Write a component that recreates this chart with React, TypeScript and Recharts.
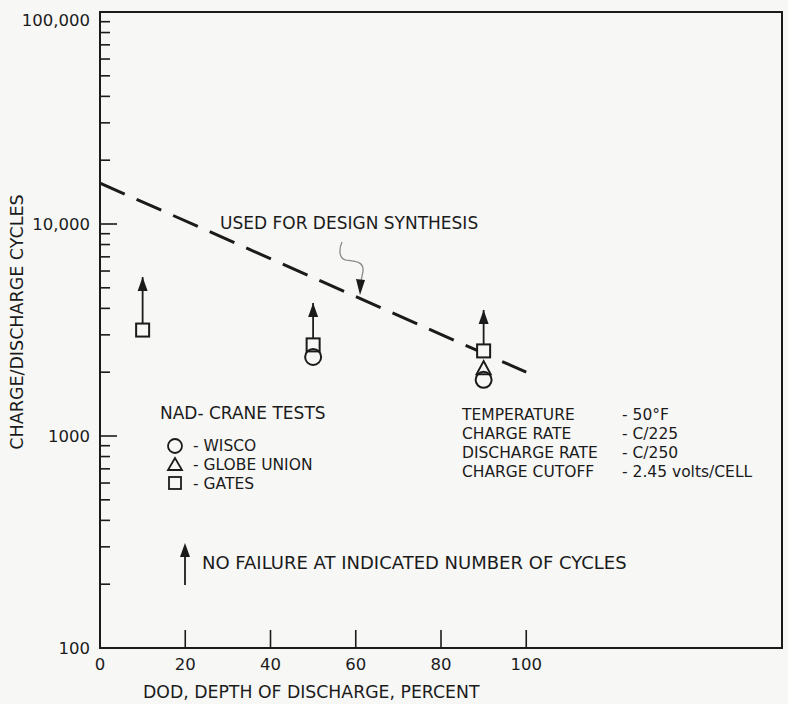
import React from "react";
import { ComposedChart, Line, Scatter, XAxis, YAxis, ReferenceArea, ReferenceDot } from "recharts";

const dodTicks = [0, 20, 40, 60, 80, 100];
const cycleTicks = [
  100, 200, 300, 400, 500, 600, 700, 800, 900,
  1000, 2000, 3000, 4000, 5000, 6000, 7000, 8000, 9000,
  10000, 20000, 30000, 40000, 50000, 60000, 70000, 80000, 90000,
  100000
];
const cycleLabels: Record<number, string> = {
  100: "100",
  1000: "1000",
  10000: "10,000",
  100000: "100,000"
};

// dashed line "used for design synthesis"
const designLine = [
  { dod: 0, cycles: 15600 },
  { dod: 100, cycles: 2000 }
];
const wisco = [
  { dod: 50, cycles: 2360 },
  { dod: 90, cycles: 1840 }
];
const globeUnion = [{ dod: 90, cycles: 2090 }];
const gates = [
  { dod: 10, cycles: 3160 },
  { dod: 50, cycles: 2690 },
  { dod: 90, cycles: 2520 }
];
// arrow tips: no failure at indicated number of cycles
const noFailureTips = [
  { dod: 10, cycles: 5620 },
  { dod: 50, cycles: 4240 },
  { dod: 90, cycles: 3930 }
];
const designPointer = { dod: 61, cycles: 4620 };

const INK = "#1b1b1b";
const BG = "#f7f7f6";
const FONT = "'DejaVu Sans', sans-serif";

const shafts = gates.map((g, i) => [
  { dod: g.dod, cycles: g.cycles },
  { dod: g.dod, cycles: noFailureTips[i].cycles }
]);

function YTick(props: any) {
  const { x, y, payload } = props;
  const v = payload.value;
  const label = cycleLabels[v];
  const ax = x + 10;
  return (
    <g>
      {v !== 100 && v !== 100000 && (
        <line x1={ax} x2={ax + (label ? 17 : 10)} y1={y} y2={y} stroke={INK} strokeWidth={1.6} />
      )}
      {label && (
        <text x={x} y={y + (v === 100000 ? 8 : 0)} dy="0.36em" textAnchor="end" fontSize={16.5} fill={INK} fontFamily={FONT}>
          {label}
        </text>
      )}
    </g>
  );
}

function XTick(props: any) {
  const { x, y, payload } = props;
  const ax = y - 8;
  return (
    <g>
      {payload.value !== 0 && <line x1={x} x2={x} y1={ax} y2={ax - 18} stroke={INK} strokeWidth={1.6} />}
      <text x={x} y={ax + 22} textAnchor="middle" fontSize={16.5} fill={INK} fontFamily={FONT}>
        {payload.value}
      </text>
    </g>
  );
}

const Square = (p: any) => (
  <rect x={p.cx - 6.5} y={p.cy - 6.5} width={13} height={13} fill={BG} stroke={INK} strokeWidth={2} />
);
const Circle = (p: any) => <circle cx={p.cx} cy={p.cy} r={8} fill="none" stroke={INK} strokeWidth={2} />;
const Triangle = (p: any) => (
  <path d={`M${p.cx},${p.cy - 7} L${p.cx - 7},${p.cy + 6} L${p.cx + 7},${p.cy + 6} Z`} fill={BG} stroke={INK} strokeWidth={2} />
);
const ArrowHead = (p: any) => (
  <path d={`M${p.cx},${p.cy} L${p.cx - 5},${p.cy + 14} L${p.cx + 5},${p.cy + 14} Z`} fill={INK} />
);

const Pointer = (p: any) => {
  const { cx, cy } = p;
  return (
    <g>
      <path
        d={`M${cx - 18},${cy - 53} C${cx - 22},${cy - 44} ${cx - 20},${cy - 36} ${cx - 14},${cy - 35} C${cx - 6},${cy - 34} ${cx + 4},${cy - 34} ${cx + 3},${cy - 24} L${cx + 1},${cy - 14}`}
        fill="none"
        stroke="#8a8a8a"
        strokeWidth={1.3}
      />
      <path d={`M${cx},${cy} L${cx - 4},${cy - 16} L${cx + 5},${cy - 15} Z`} fill={INK} />
    </g>
  );
};

function Overlay() {
  const t = { fontFamily: FONT, fontSize: 17, fill: INK } as const;
  const s = { ...t, fontSize: 15.5 } as const;
  return (
    <svg width={788} height={704} style={{ position: "absolute", left: 0, top: 0, pointerEvents: "none" }}>
      <text {...t} fontSize={17.5} x={17} y={322} textAnchor="middle" dominantBaseline="central" transform="rotate(-90 17 322)">
        CHARGE/DISCHARGE CYCLES
      </text>
      <text {...t} fontSize={17.3} x={143} y={698}>DOD, DEPTH OF DISCHARGE, PERCENT</text>

      <text {...t} x={220} y={229}>USED FOR DESIGN SYNTHESIS</text>

      <text {...t} x={160} y={419}>NAD- CRANE TESTS</text>
      <circle cx={175} cy={446} r={7} fill="none" stroke={INK} strokeWidth={1.8} />
      <text {...s} x={193} y={451}>- WISCO</text>
      <path d="M175,458 L168,470 L182,470 Z" fill="none" stroke={INK} strokeWidth={1.8} />
      <text {...s} x={193} y={470}>- GLOBE UNION</text>
      <rect x={169} y={477} width={12} height={12} fill="none" stroke={INK} strokeWidth={1.8} />
      <text {...s} x={193} y={489}>- GATES</text>

      <text {...s} x={462} y={420}>TEMPERATURE</text>
      <text {...s} x={622} y={420}>- 50°F</text>
      <text {...s} x={462} y={439}>CHARGE RATE</text>
      <text {...s} x={622} y={439}>- C/225</text>
      <text {...s} x={462} y={458}>DISCHARGE RATE</text>
      <text {...s} x={622} y={458}>- C/250</text>
      <text {...s} x={462} y={477}>CHARGE CUTOFF</text>
      <text {...s} x={622} y={477}>- 2.45 volts/CELL</text>

      <line x1={185} x2={185} y1={585} y2={550} stroke={INK} strokeWidth={1.8} />
      <path d="M185,543 L180,557 L190,557 Z" fill={INK} />
      <text {...t} fontSize={18} x={202} y={569}>NO FAILURE AT INDICATED NUMBER OF CYCLES</text>
    </svg>
  );
}

export default function App() {
  return (
    <div style={{ position: "absolute", left: 0, top: 0, width: 788, height: 704, background: BG }}>
      <ComposedChart width={788} height={704} margin={{ top: 12, right: 6, bottom: 26, left: 10 }}>
        <XAxis
          dataKey="dod"
          type="number"
          domain={[0, 160]}
          ticks={dodTicks}
          interval={0}
          height={30}
          tickSize={0}
          tickMargin={8}
          tickLine={false}
          axisLine={{ stroke: INK, strokeWidth: 2 }}
          tick={<XTick />}
        />
        <YAxis
          dataKey="cycles"
          type="number"
          scale="log"
          domain={[100, 100000]}
          allowDataOverflow
          ticks={cycleTicks}
          interval={0}
          width={90}
          tickSize={0}
          tickMargin={10}
          tickLine={false}
          axisLine={{ stroke: INK, strokeWidth: 2 }}
          tick={<YTick />}
        />
        <ReferenceArea x1={0} x2={160} y1={100} y2={100000} fill="none" stroke={INK} strokeWidth={2} fillOpacity={0} />
        <Line
          data={designLine}
          dataKey="cycles"
          stroke={INK}
          strokeWidth={3}
          strokeDasharray="27 13"
          dot={false}
          activeDot={false}
          isAnimationActive={false}
        />
        {shafts.map((s, i) => (
          <Line
            key={i}
            data={s}
            dataKey="cycles"
            stroke={INK}
            strokeWidth={1.8}
            dot={false}
            activeDot={false}
            isAnimationActive={false}
          />
        ))}
        <Scatter data={noFailureTips} dataKey="cycles" shape={<ArrowHead />} isAnimationActive={false} />
        <Scatter data={gates} dataKey="cycles" shape={<Square />} isAnimationActive={false} />
        <Scatter data={globeUnion} dataKey="cycles" shape={<Triangle />} isAnimationActive={false} />
        <Scatter data={wisco} dataKey="cycles" shape={<Circle />} isAnimationActive={false} />
        <ReferenceDot x={designPointer.dod} y={designPointer.cycles} shape={<Pointer />} />
      </ComposedChart>
      <Overlay />
    </div>
  );
}
